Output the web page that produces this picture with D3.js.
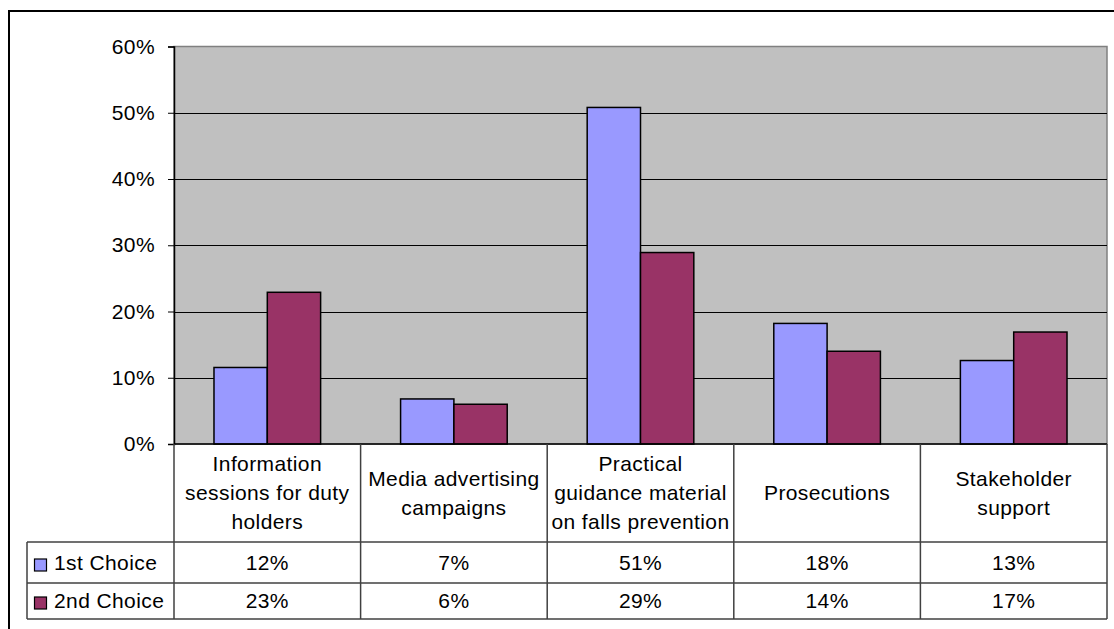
<!DOCTYPE html>
<html><head><meta charset="utf-8">
<script src="https://cdn.jsdelivr.net/npm/d3@7/dist/d3.min.js"></script>
<style>
html,body{margin:0;padding:0;background:#fff;}
svg{display:block;font-family:"Liberation Sans",Arial,sans-serif;}
text{letter-spacing:0.4px;}
</style></head>
<body><svg id="c" width="1114" height="629"></svg>
<script>
const categories = ["Information sessions for duty holders","Media advertising campaigns","Practical guidance material on falls prevention","Prosecutions","Stakeholder support"];
const categoryLines = [["Information","sessions for duty","holders"],["Media advertising","campaigns"],["Practical","guidance material","on falls prevention"],["Prosecutions"],["Stakeholder","support"]];
const seriesNames = ["1st Choice","2nd Choice"];
const firstChoice = [0.1155, 0.068, 0.508, 0.182, 0.126];
const secondChoice = [0.229, 0.060, 0.289, 0.140, 0.169];
const yTicks = [0, 0.1, 0.2, 0.3, 0.4, 0.5, 0.6];
const colors = ["#9999FF","#993366"];

const svg = d3.select("#c");
const L = 174, R = 1107, T = 46.5, B = 444;
const fs = 21;
const y = d3.scaleLinear().domain([0,0.6]).range([B,T]);
const x = d3.scaleBand().domain(categories).range([L,R]).paddingInner(0).paddingOuter(0);
const series = [firstChoice, secondChoice];
const bw = x.bandwidth()/3.5;
const xs = d3.scaleBand().domain([0,1]).range([0, 2*bw]);

// outer frame
svg.append("path").attr("d", `M9,640 V11 H1120`).attr("fill","none").attr("stroke","#000").attr("stroke-width",2);

// plot area
svg.append("rect").attr("x",L).attr("y",T).attr("width",R-L).attr("height",B-T).attr("fill","#C0C0C0").attr("stroke","#808080").attr("stroke-width",1.5);

// gridlines
svg.append("g").selectAll("line").data(yTicks.filter(d=>d>0 && d<0.6)).join("line")
  .attr("x1",L).attr("x2",R).attr("y1",d=>Math.round(y(d))+0.5).attr("y2",d=>Math.round(y(d))+0.5)
  .attr("stroke","#000").attr("stroke-width",1);

// bars
const groups = svg.append("g").selectAll("g").data(categories).join("g")
  .attr("transform",d=>`translate(${x(d)+(x.bandwidth()-2*bw)/2},0)`);
groups.selectAll("rect").data((d,i)=>series.map((s,k)=>({k,v:s[i]}))).join("rect")
  .attr("x",d=>xs(d.k)).attr("width",xs.bandwidth())
  .attr("y",d=>y(d.v)).attr("height",d=>B-y(d.v))
  .attr("fill",d=>colors[d.k]).attr("stroke","#000").attr("stroke-width",1.5);

// y axis
const yAxis = d3.axisLeft(y).tickValues(yTicks).tickFormat(d3.format(".0%")).tickSize(6).tickPadding(13);
const ga = svg.append("g").attr("transform",`translate(${L},0)`).call(yAxis);
ga.select(".domain").attr("stroke","#000").attr("stroke-width",1.5);
ga.selectAll(".tick line").attr("stroke","#000");
ga.selectAll("text").attr("font-size",fs).attr("fill","#000").attr("font-family","Liberation Sans, Arial, sans-serif");

// data table
const rowTop = [542, 583, 619];
const lineCol = "#404040";
const tbl = svg.append("g");
tbl.append("line").attr("x1",L).attr("x2",R).attr("y1",B).attr("y2",B).attr("stroke","#000").attr("stroke-width",1.5);
rowTop.forEach(yy=>{
  tbl.append("line").attr("x1",27).attr("x2",R).attr("y1",yy).attr("y2",yy).attr("stroke",lineCol).attr("stroke-width",1.5);
});
tbl.append("line").attr("x1",27).attr("x2",27).attr("y1",542).attr("y2",619).attr("stroke",lineCol).attr("stroke-width",1.5);
[...categories.map(c=>x(c)), R].forEach(xx=>{
  tbl.append("line").attr("x1",xx).attr("x2",xx).attr("y1",B).attr("y2",619).attr("stroke",lineCol).attr("stroke-width",1.5);
});
// category headers
const lh = 29;
categories.forEach((c,i)=>{
  const lines = categoryLines[i];
  const cx = x(c)+x.bandwidth()/2;
  const mid = 493;
  const first = mid - (lines.length-1)*lh/2 + 7;
  lines.forEach((t,j)=>{
    tbl.append("text").attr("x",cx).attr("y",first+j*lh).attr("text-anchor","middle")
      .attr("font-size",fs).attr("fill","#000").text(t);
  });
});
// value rows
const fmt = d3.format(".0%");
const rowBase = [570, 608];
series.forEach((s,k)=>{
  tbl.append("rect").attr("x",34.5).attr("y",rowBase[k]-11).attr("width",12).attr("height",12)
    .attr("fill",colors[k]).attr("stroke","#000").attr("stroke-width",1.2);
  tbl.append("text").attr("x",54).attr("y",rowBase[k]).attr("font-size",fs).attr("fill","#000").text(seriesNames[k]);
  categories.forEach((c,i)=>{
    tbl.append("text").attr("x",x(c)+x.bandwidth()/2).attr("y",rowBase[k]).attr("text-anchor","middle")
      .attr("font-size",fs).attr("fill","#000").text(fmt(s[i]));
  });
});
</script></body></html>
